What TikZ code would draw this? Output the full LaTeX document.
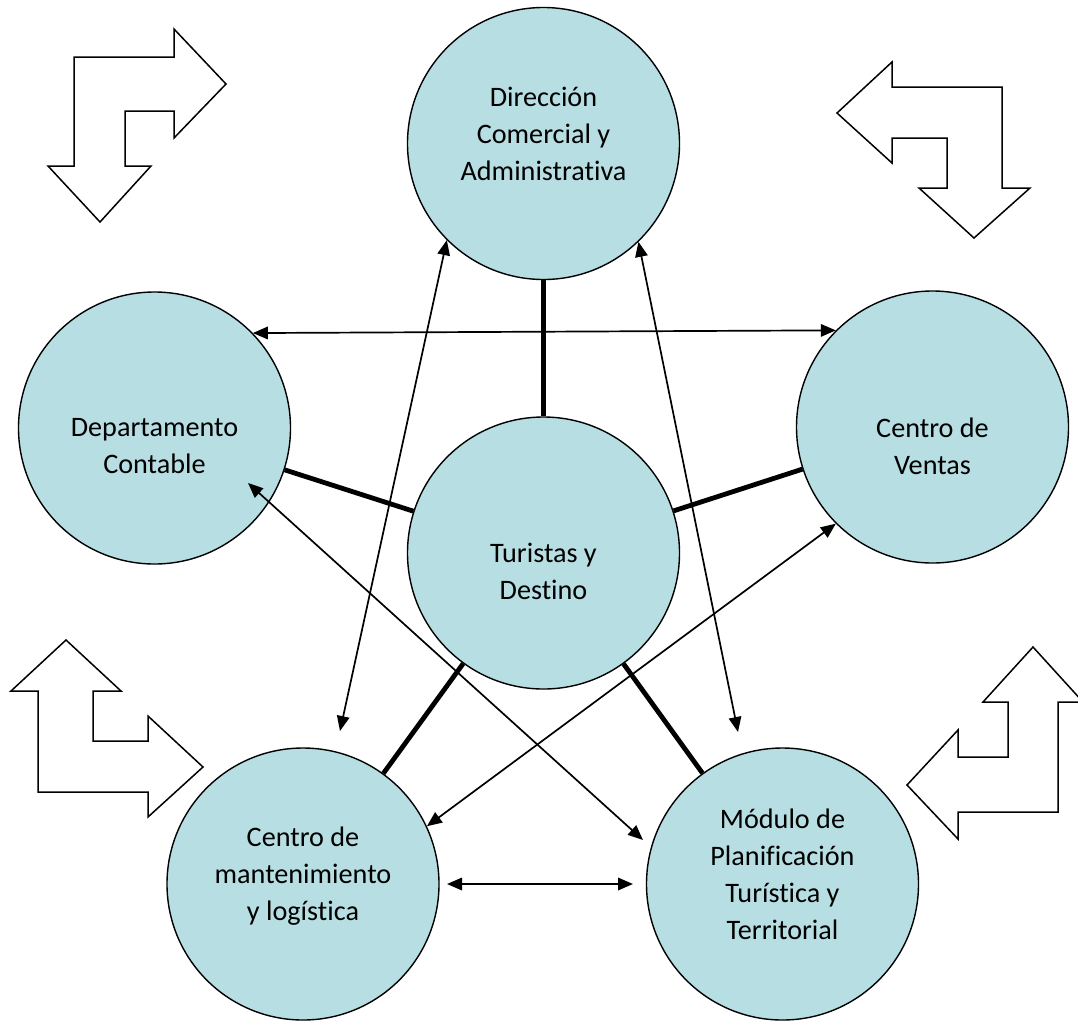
\documentclass[tikz,border=0pt]{standalone}
\usepackage{fontspec}
\setmainfont{Carlito}[Ligatures=NoCommon]
\usetikzlibrary{arrows.meta}
\definecolor{circfill}{RGB}{183,222,226}
\tikzset{
  circ/.style={circle, draw=black, line width=1.4pt, fill=circfill, minimum size=272pt, inner sep=0pt},
  txt/.style={align=center, font=\fontsize{28.2}{37}\selectfont, inner sep=0pt},
  thickline/.style={line width=4.8pt},
  link/.style={line width=1.7pt, {Triangle[length=15pt,width=12.5pt]}-{Triangle[length=15pt,width=12.5pt]}},
  bent/.style={draw=black, fill=white, line width=1.5pt, line join=miter}
}
\begin{document}
\begin{tikzpicture}[x=1pt,y=-1pt]
\useasboundingbox (0,0) rectangle (1078,1021);
% corner bent arrows
\draw[bent] (174,29) -- (226,84) -- (174,138) -- (174,111) -- (125,111) -- (125,166) -- (151,166) -- (100,222) -- (48,166) -- (74,166) -- (74,57) -- (174,57) -- cycle;
\draw[bent] (892,62) -- (837,113) -- (892,163) -- (892,138) -- (947,138) -- (947,188) -- (919,188) -- (974,238) -- (1030,188) -- (1002,188) -- (1002,87) -- (892,87) -- cycle;
\draw[bent] (66,640) -- (121,691) -- (93,691) -- (93,741) -- (148,741) -- (148,716) -- (203,767) -- (148,817) -- (148,792) -- (38,792) -- (38,691) -- (11,691) -- cycle;
\draw[bent] (1033,647) -- (1083,702) -- (1058,702) -- (1058,812) -- (958,812) -- (958,839) -- (907,785) -- (958,730) -- (958,757) -- (1008,757) -- (1008,702) -- (983,702) -- cycle;
% circles
\node[circ] (top) at (543.5,143.5) {};
\node[circ] (left) at (154.5,428) {};
\node[circ] (right) at (932.5,427) {};
\node[circ] (center) at (543.5,553) {};
\node[circ] (bl) at (303,884) {};
\node[circ] (br) at (782.5,884) {};
% texts
\node[txt] (toptxt) at (543.5,134) {Dirección\\Comercial y\\Administrativa};
\node[txt] (lefttxt) at (154.5,446.5) {Departamento\\Contable};
\node[txt] (righttxt) at (932.5,446.5) {Centro de\\Ventas};
\node[txt] (centertxt) at (543.5,571) {Turistas y\\Destino};
\node[txt] (bltxt) at (303,876) {Centro de\\mantenimiento\\y logística};
\node[txt] (brtxt) at (782.5,874) {Módulo de\\Planificación\\Turística y\\Territorial};
% free ends
\coordinate (blA) at (340,731);
\coordinate (brA) at (738,732);
\coordinate (leftIn) at (248,483);
\coordinate (brB) at (643,840);
\coordinate (blC) at (447,884);
\coordinate (brC) at (633,884);
% thick spokes
\draw[thickline] (center) -- (top);
\draw[thickline] (center) -- (left);
\draw[thickline] (center) -- (right);
\draw[thickline] (center) -- (bl);
\draw[thickline] (center) -- (br);
% thin double arrows
\draw[link] (left.44.7) -- (right.135.3);
\draw[link] (top.225.8) -- (blA);
\draw[link] (top.314) -- (brA);
\draw[link] (leftIn) -- (brB);
\draw[link] (right.225.1) -- (bl.25.4);
\draw[link] (blC) -- (brC);
\end{tikzpicture}
\end{document}
